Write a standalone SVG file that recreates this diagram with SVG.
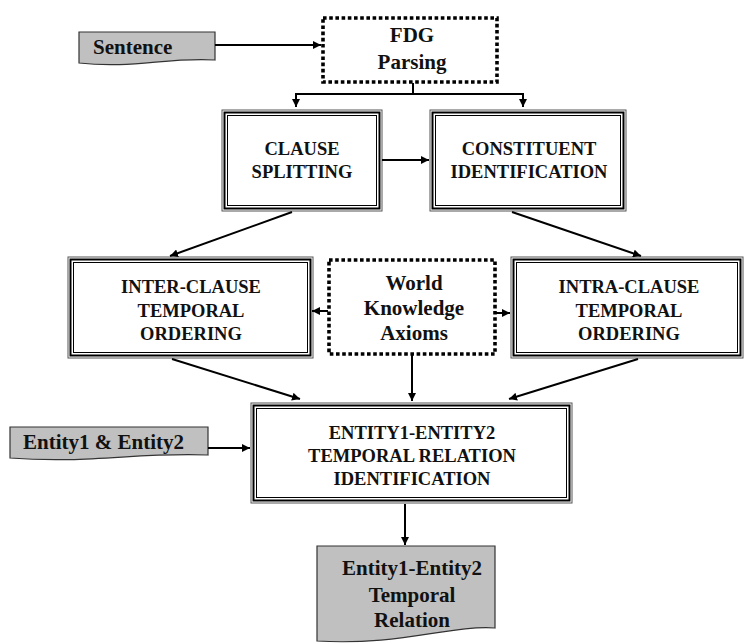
<svg xmlns="http://www.w3.org/2000/svg" width="745" height="644" viewBox="0 0 745 644">
<defs>
<marker id="ah" markerUnits="userSpaceOnUse" markerWidth="9" markerHeight="8" refX="8" refY="4" orient="auto">
<path d="M0,0 L8,4 L0,8 Z" fill="#000"/>
</marker>
<style>
.o{fill:#fff;stroke:#555;stroke-width:1}
.m{fill:none;stroke:#000;stroke-width:2}
.i{fill:none;stroke:#000;stroke-width:1}
.dot{fill:#fff;stroke:#000;stroke-width:3.6;stroke-dasharray:3.6 2.6}
.doc{fill:#c0c0c0;stroke:#333;stroke-width:1.2}
.cap{font-size:18.5px;text-anchor:middle;fill:#111}
.lbl{font-size:21px;fill:#111}
.mid{text-anchor:middle}
.c{fill:none;stroke:#000;stroke-width:2;marker-end:url(#ah)}
.l{fill:none;stroke:#000;stroke-width:2}
</style>
</defs>
<rect width="745" height="644" fill="#fff"/>
<g font-family="Liberation Serif" font-weight="bold">
<g id="sentence">
<path class="doc" d="M79,32 H215 V60 C167,57 133,69 79,63 Z"/>
<text class="lbl" x="93" y="54">Sentence</text>
</g>

<g id="fdg">
<rect class="dot" x="323" y="18" width="174" height="64"/>
<text class="lbl mid" x="412" y="42">FDG</text>
<text class="lbl mid" x="412" y="69">Parsing</text>
</g>

<g id="clause">
<rect class="o" x="222" y="110" width="160" height="101"/>
<rect class="m" x="224.5" y="112.5" width="155" height="96"/>
<rect class="i" x="227.5" y="115.5" width="149" height="90"/>
<text class="cap" x="302" y="155">CLAUSE</text>
<text class="cap" x="302" y="178">SPLITTING</text>
</g>

<g id="constituent">
<rect class="o" x="430" y="110" width="196" height="101"/>
<rect class="m" x="432.5" y="112.5" width="191" height="96"/>
<rect class="i" x="435.5" y="115.5" width="185" height="90"/>
<text class="cap" x="529" y="155">CONSTITUENT</text>
<text class="cap" x="529" y="178">IDENTIFICATION</text>
</g>

<g id="inter">
<rect class="o" x="68" y="257" width="245" height="101"/>
<rect class="m" x="70.5" y="259.5" width="240" height="96"/>
<rect class="i" x="73.5" y="262.5" width="234" height="90"/>
<text class="cap" x="191" y="293">INTER-CLAUSE</text>
<text class="cap" x="191" y="317">TEMPORAL</text>
<text class="cap" x="191" y="340">ORDERING</text>
</g>

<g id="world">
<rect class="dot" x="329" y="260" width="166" height="94"/>
<text class="lbl mid" x="414" y="290">World</text>
<text class="lbl mid" x="414" y="315">Knowledge</text>
<text class="lbl mid" x="414" y="340">Axioms</text>
</g>

<g id="intra">
<rect class="o" x="511" y="257" width="232" height="101"/>
<rect class="m" x="513.5" y="259.5" width="227" height="96"/>
<rect class="i" x="516.5" y="262.5" width="221" height="90"/>
<text class="cap" x="629" y="293">INTRA-CLAUSE</text>
<text class="cap" x="629" y="317">TEMPORAL</text>
<text class="cap" x="629" y="340">ORDERING</text>
</g>

<g id="entities">
<path class="doc" d="M10,427 H208 V455 C139,452 89,464 10,458 Z"/>
<text class="lbl" x="23" y="449">Entity1 &amp; Entity2</text>
</g>

<g id="identification">
<rect class="o" x="251" y="403" width="321" height="100"/>
<rect class="m" x="253.5" y="405.5" width="316" height="95"/>
<rect class="i" x="256.5" y="408.5" width="310" height="89"/>
<text class="cap" x="412" y="439">ENTITY1-ENTITY2</text>
<text class="cap" x="412" y="462">TEMPORAL RELATION</text>
<text class="cap" x="412" y="485">IDENTIFICATION</text>
</g>

<g id="output">
<path class="doc" d="M317,546 H495 V628 C450,625 400,646 317,641 Z"/>
<text class="lbl mid" x="412" y="575">Entity1-Entity2</text>
<text class="lbl mid" x="412" y="602">Temporal</text>
<text class="lbl mid" x="412" y="627">Relation</text>
</g>
</g>
<g id="connectors">
<path class="c" d="M215,45 H321"/>
<path class="l" d="M413,83 V94 M296,94 H523"/>
<path class="c" d="M296,93 V107"/>
<path class="c" d="M523,93 V107"/>
<path class="c" d="M382,160 H429"/>
<path class="c" d="M292,212 L170,256"/>
<path class="c" d="M512,212 L641,256"/>
<path class="c" d="M328,311 H312"/>
<path class="c" d="M496,313 H510"/>
<path class="c" d="M172,359 L300,399"/>
<path class="c" d="M412,355 V401"/>
<path class="c" d="M638,359 L509,399"/>
<path class="c" d="M208,448 H250"/>
<path class="c" d="M405,504 V545"/>
</g>
</svg>
